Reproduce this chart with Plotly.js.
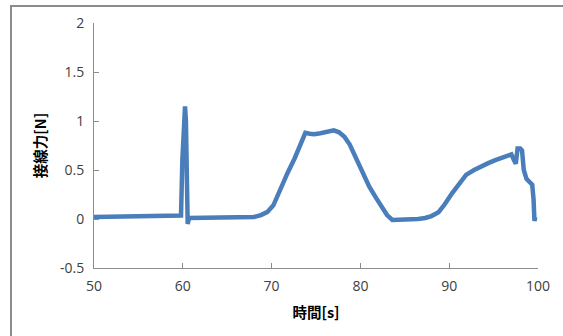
<!DOCTYPE html>
<html>
<head>
<meta charset="utf-8">
<script src="https://cdn.plot.ly/plotly-3.0.1.min.js"></script>
<style>
html,body{margin:0;padding:0;width:563px;height:336px;overflow:hidden;background:#fff;}
#frame{position:absolute;left:10px;top:5px;width:600px;height:400px;border-top:2px solid #8c8c8c;border-left:2px solid #8c8c8c;}
#chart{position:absolute;left:0;top:0;width:551px;height:331px;}
</style>
</head>
<body>
<div id="frame"><div id="chart"></div></div>
<script>
const time = [50, 52, 54, 56, 58, 59.8, 59.95, 60.1, 60.25, 60.35, 60.45, 60.55, 60.7, 61, 63, 65, 67, 68, 68.8, 69.5, 70.2, 71, 71.8, 72.6, 73.3, 73.8, 74.3, 74.8, 75.5, 76.3, 77, 77.6, 78.2, 78.8, 79.5, 80.2, 81, 81.8, 82.5, 83, 83.6, 84.5, 85.5, 86.5, 87.3, 88, 88.8, 89.5, 90.3, 91.1, 91.9, 92.8, 93.6, 94.4, 95.2, 96, 96.6, 97.0, 97.3, 97.5, 97.7, 98.0, 98.2, 98.4, 98.7, 99.0, 99.35, 99.5, 99.6, 99.7];
const force = [0.02, 0.025, 0.02, 0.03, 0.03, 0.035, 0.6, 1.05, 1.15, 1.0, 0.5, -0.05, 0.01, 0.01, 0.015, 0.01, 0.01, 0.02, 0.04, 0.07, 0.14, 0.31, 0.47, 0.62, 0.78, 0.88, 0.87, 0.865, 0.875, 0.895, 0.905, 0.885, 0.84, 0.76, 0.62, 0.48, 0.33, 0.21, 0.1, 0.04, -0.01, -0.01, 0, 0, 0.01, 0.03, 0.07, 0.15, 0.26, 0.36, 0.45, 0.5, 0.54, 0.57, 0.6, 0.63, 0.655, 0.66, 0.6, 0.565, 0.72, 0.72, 0.7, 0.5, 0.41, 0.38, 0.35, 0.2, -0.02, 0.02];
const yTickVals = [-0.5, 0, 0.5, 1, 1.5, 2];
const yTickText = ['-0.5', '0', '0.5', '1', '1.5', '2'];
const xTickVals = [50, 60, 70, 80, 90, 100];
const xTickText = ['50', '60', '70', '80', '90', '100'];

const tickFont = {family: 'Open Sans, Noto Sans, sans-serif', size: 14, color: '#404040'};
const titleFont = {family: 'Noto Sans CJK JP, sans-serif', size: 14.5, color: '#000', weight: 'bold'};

Plotly.newPlot('chart', [{
  x: time, y: force, type: 'scatter', mode: 'lines',
  line: {color: '#4a7ebb', width: 4.5, shape: 'linear'},
  hoverinfo: 'skip'
}], {
  width: 551, height: 331,
  margin: {l: 82, r: 25, t: 16, b: 70},
  paper_bgcolor: '#fff', plot_bgcolor: '#fff',
  showlegend: false,
  xaxis: {
    range: [50, 100], tickmode: 'array', tickvals: xTickVals, ticktext: xTickText,
    showgrid: false, zeroline: false, showline: true, linecolor: '#8c8c8c', linewidth: 1,
    ticks: 'inside', ticklen: 5, tickcolor: '#8c8c8c', tickfont: tickFont, ticklabelstandoff: 5,
    title: {text: '時間[s]', font: titleFont, standoff: 14}
  },
  yaxis: {
    range: [-0.5, 2], tickmode: 'array', tickvals: yTickVals, ticktext: yTickText,
    showgrid: false, zeroline: false, showline: true, linecolor: '#8c8c8c', linewidth: 1,
    ticks: 'inside', ticklen: 5, tickcolor: '#8c8c8c', tickfont: tickFont, ticklabelstandoff: 6,
    title: {text: '接線力[N]', font: titleFont, standoff: 9}
  }
}, {staticPlot: true});
</script>
</body>
</html>
